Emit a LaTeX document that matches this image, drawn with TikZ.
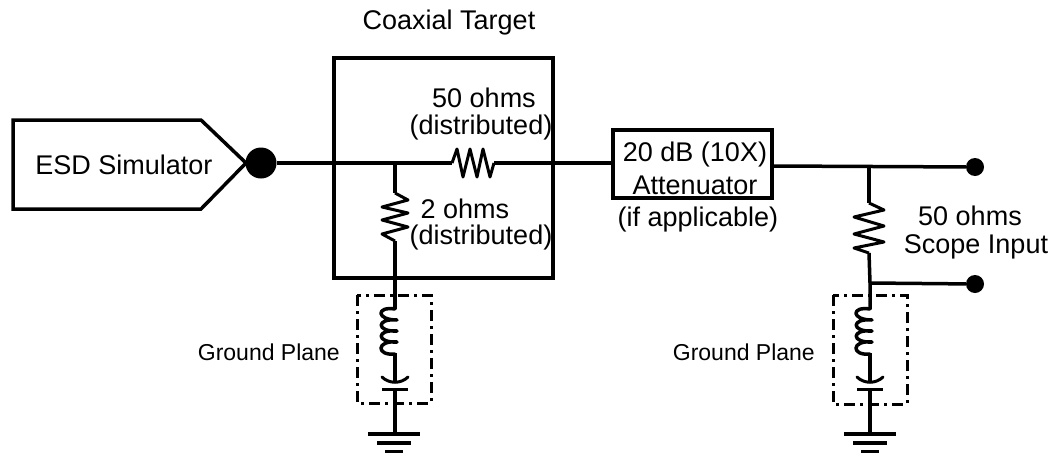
\documentclass[tikz,border=0pt]{standalone}
\usepackage{fontspec}
\setmainfont{Liberation Sans}
\begin{document}
\begin{tikzpicture}[x=1pt,y=-1pt,
  wire/.style={line width=3.5pt,line join=miter},
  dashbox/.style={line width=3pt,dash pattern=on 11pt off 5pt on 3pt off 5pt},
  term/.style={circle,fill=black,inner sep=0pt,minimum size=#1},
  lab/.style={font=\fontsize{27}{30}\selectfont,align=center,inner sep=0pt},
  smalllab/.style={font=\fontsize{23}{26}\selectfont,inner sep=0pt}]
\useasboundingbox (0,0) rectangle (1052,453);
\newcommand{\coilcap}[1]{%
  \draw[wire,line cap=round,line join=round] (#1,309)
    .. controls (#1-19,306) and (#1-19,320) .. (#1+2,320)
    .. controls (#1-19,318) and (#1-19,332) .. (#1+2,331)
    .. controls (#1-19,329) and (#1-19,343) .. (#1+2,342)
    .. controls (#1-19,340) and (#1-19,356) .. (#1,354);
  \draw[wire,line width=3pt,line cap=round] (#1-13,377) .. controls (#1-6,384) and (#1+6,384) .. (#1+13,377);
  \draw[wire,line width=3pt] (#1-13,389) -- (#1+13,389);}

% simulator
\draw[wire] (13,120) -- (201,120) -- (246,163) -- (201,209) -- (13,209) -- cycle;
\node[lab] (simtext) at (124,165) {ESD Simulator};
\node[term=31pt] (src) at (261,163) {};

% coaxial target
\node[draw,line width=3.5pt,minimum width=219pt,minimum height=220pt,inner sep=0pt] (coax) at (443.5,168) {};
\node[lab] (coaxtext) at (449,23) {Coaxial Target};
\node[lab] (t50a) at (484,98) {50 ohms};
\node[lab] (t50b) at (481,128) {(distributed)};
\node[lab] (t2a) at (465,209) {2 ohms};
\node[lab] (t2b) at (481,238) {(distributed)};

% attenuator
\node[draw,line width=3.5pt,minimum width=159pt,minimum height=68pt,inner sep=0pt] (att) at (692.5,164) {};
\node[lab] (atta) at (695,155) {20 dB (10X)};
\node[lab] (attb) at (695,185) {Attenuator};
\node[lab] (ifapp) at (698,220) {(if applicable)};

% main wire
\coordinate (j1) at (395,163);
\coordinate (r1a) at (452,163);
\coordinate (r1b) at (494,163);
\draw[wire] (src) -- (r1a);
\draw[wire,line width=3pt,line join=round] (r1a) -- (457,149) -- (463,177) -- (470,149) -- (477,177) -- (483,149) -- (490,177) -- (r1b);
\draw[wire] (r1b) -- (att.west |- r1b);

% left branch
\coordinate (r2a) at (395,193);
\coordinate (r2b) at (395,241);
\coordinate (l1) at (395,309);
\draw[wire] (j1) -- (r2a);
\draw[wire,line width=3pt,line join=round] (r2a) -- (408,200) -- (382,207) -- (408,213) -- (382,220) -- (408,227) -- (382,234) -- (r2b);
\draw[wire] (r2b) -- (l1);
\coilcap{395}
\coordinate (l1b) at (395,353);
\coordinate (c1a) at (395,382);
\coordinate (c1b) at (395,389);
\coordinate (g1) at (395,434);
\draw[wire] (l1b) -- (c1a);
\draw[wire] (c1b) -- (g1);
\draw[dashbox] (357,295) rectangle (431,403);
\draw[wire] (368,434) -- (420,434);
\draw[wire] (377,443) -- (411,443);
\draw[wire] (385,451.5) -- (403,451.5);
\node[smalllab,anchor=east] (gp1) at (340,352) {Ground Plane};

% right part
\node[term=18pt] (o1) at (975,167) {};
\node[term=18pt] (o2) at (975,284) {};
\coordinate (a1) at (772,166);
\coordinate (j2) at (869,167);
\coordinate (r3a) at (869,203);
\coordinate (r3b) at (869,253);
\coordinate (j3) at (870,283);
\coordinate (l2) at (870,309);
\draw[wire] (a1) -- (o1);
\draw[wire] (j2) -- (r3a);
\draw[wire,line width=3pt,line join=round] (r3a) -- (884,210) -- (854,217) -- (884,226) -- (854,234) -- (884,242) -- (854,248) -- (r3b);
\draw[wire] (r3b) -- (j3) -- (l2);
\draw[wire] (j3) -- (o2);
\coilcap{870}
\coordinate (l2b) at (870,353);
\coordinate (c2a) at (870,382);
\coordinate (c2b) at (870,389);
\coordinate (g2) at (870,434);
\draw[wire] (l2b) -- (c2a);
\draw[wire] (c2b) -- (g2);
\draw[dashbox] (833,295) rectangle (907,404);
\draw[wire] (844,434) -- (896,434);
\draw[wire] (853,443) -- (887,443);
\draw[wire] (861,451.5) -- (879,451.5);
\node[smalllab,anchor=east] (gp2) at (815,352) {Ground Plane};
\node[lab] (scopea) at (970,216) {50 ohms};
\node[lab] (scopeb) at (976,247) {Scope Input};
\end{tikzpicture}
\end{document}
